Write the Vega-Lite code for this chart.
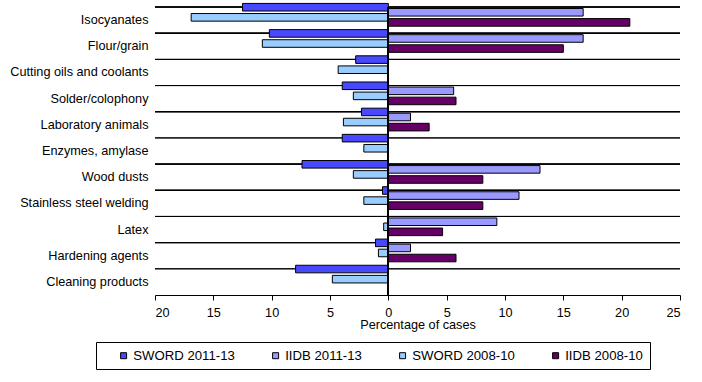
{
  "$schema": "https://vega.github.io/schema/vega-lite/v6.json",
  "width": 525,
  "height": 288,
  "autosize": {"type": "none"},
  "padding": {"left": 155, "top": 7, "right": 22, "bottom": 87},
  "config": {"view": {"stroke": null}, "font": "Liberation Sans"},
  "data": {
    "values": [
      {"category": "Isocyanates", "series": "SWORD 2011-13", "pct": -12.5},
      {"category": "Isocyanates", "series": "IIDB 2011-13", "pct": 16.7},
      {"category": "Isocyanates", "series": "SWORD 2008-10", "pct": -16.9},
      {"category": "Isocyanates", "series": "IIDB 2008-10", "pct": 20.7},
      {"category": "Flour/grain", "series": "SWORD 2011-13", "pct": -10.2},
      {"category": "Flour/grain", "series": "IIDB 2011-13", "pct": 16.7},
      {"category": "Flour/grain", "series": "SWORD 2008-10", "pct": -10.8},
      {"category": "Flour/grain", "series": "IIDB 2008-10", "pct": 15.0},
      {"category": "Cutting oils and coolants", "series": "SWORD 2011-13", "pct": -2.8},
      {"category": "Cutting oils and coolants", "series": "SWORD 2008-10", "pct": -4.3},
      {"category": "Solder/colophony", "series": "SWORD 2011-13", "pct": -3.95},
      {"category": "Solder/colophony", "series": "IIDB 2011-13", "pct": 5.6},
      {"category": "Solder/colophony", "series": "SWORD 2008-10", "pct": -3.0},
      {"category": "Solder/colophony", "series": "IIDB 2008-10", "pct": 5.8},
      {"category": "Laboratory animals", "series": "SWORD 2011-13", "pct": -2.3},
      {"category": "Laboratory animals", "series": "IIDB 2011-13", "pct": 1.9},
      {"category": "Laboratory animals", "series": "SWORD 2008-10", "pct": -3.85},
      {"category": "Laboratory animals", "series": "IIDB 2008-10", "pct": 3.5},
      {"category": "Enzymes, amylase", "series": "SWORD 2011-13", "pct": -3.95},
      {"category": "Enzymes, amylase", "series": "SWORD 2008-10", "pct": -2.1},
      {"category": "Wood dusts", "series": "SWORD 2011-13", "pct": -7.4},
      {"category": "Wood dusts", "series": "IIDB 2011-13", "pct": 13.0},
      {"category": "Wood dusts", "series": "SWORD 2008-10", "pct": -3.0},
      {"category": "Wood dusts", "series": "IIDB 2008-10", "pct": 8.1},
      {"category": "Stainless steel welding", "series": "SWORD 2011-13", "pct": -0.5},
      {"category": "Stainless steel welding", "series": "IIDB 2011-13", "pct": 11.2},
      {"category": "Stainless steel welding", "series": "SWORD 2008-10", "pct": -2.1},
      {"category": "Stainless steel welding", "series": "IIDB 2008-10", "pct": 8.1},
      {"category": "Latex", "series": "IIDB 2011-13", "pct": 9.3},
      {"category": "Latex", "series": "SWORD 2008-10", "pct": -0.4},
      {"category": "Latex", "series": "IIDB 2008-10", "pct": 4.65},
      {"category": "Hardening agents", "series": "SWORD 2011-13", "pct": -1.1},
      {"category": "Hardening agents", "series": "IIDB 2011-13", "pct": 1.9},
      {"category": "Hardening agents", "series": "SWORD 2008-10", "pct": -0.85},
      {"category": "Hardening agents", "series": "IIDB 2008-10", "pct": 5.8},
      {"category": "Cleaning products", "series": "SWORD 2011-13", "pct": -7.95},
      {"category": "Cleaning products", "series": "SWORD 2008-10", "pct": -4.8}
    ]
  },
  "layer": [
    {
      "mark": {"type": "rule", "color": "black", "strokeWidth": 1},
      "encoding": {
        "y": {
          "field": "category",
          "type": "nominal",
          "bandPosition": 0,
          "sort": ["Isocyanates", "Flour/grain", "Cutting oils and coolants", "Solder/colophony", "Laboratory animals", "Enzymes, amylase", "Wood dusts", "Stainless steel welding", "Latex", "Hardening agents", "Cleaning products"]
        }
      }
    },
    {
      "mark": {"type": "bar", "stroke": "black", "strokeWidth": 1, "height": {"band": 1.5}},
      "encoding": {
        "y": {
          "field": "category",
          "type": "nominal",
          "sort": ["Isocyanates", "Flour/grain", "Cutting oils and coolants", "Solder/colophony", "Laboratory animals", "Enzymes, amylase", "Wood dusts", "Stainless steel welding", "Latex", "Hardening agents", "Cleaning products"],
          "scale": {"paddingInner": 0, "paddingOuter": 0},
          "axis": {
            "title": null,
            "domain": false,
            "ticks": false,
            "grid": false,
            "labelPadding": 7,
            "labelFontSize": 12.7,
            "labelColor": "black",
            "labelLimit": 300
          }
        },
        "yOffset": {
          "field": "series",
          "type": "nominal",
          "sort": ["SWORD 2011-13", "IIDB 2011-13", "SWORD 2008-10", "IIDB 2008-10"],
          "scale": {"paddingInner": 0, "paddingOuter": 0.59}
        },
        "x": {
          "field": "pct",
          "type": "quantitative",
          "scale": {"domain": [-20, 25], "nice": false},
          "axis": {
            "values": [-20, -15, -10, -5, 0, 5, 10, 15, 20, 25],
            "labelExpr": "abs(datum.value)",
            "grid": false,
            "domainColor": "black",
            "tickColor": "black",
            "tickSize": 5,
            "labelFontSize": 12.7,
            "labelColor": "black",
            "labelPadding": 6,
            "title": "Percentage of cases",
            "titleFontSize": 12.7,
            "titleFontWeight": "normal",
            "titleColor": "black",
            "titlePadding": 0
          }
        },
        "color": {
          "field": "series",
          "type": "nominal",
          "scale": {
            "domain": ["SWORD 2011-13", "IIDB 2011-13", "SWORD 2008-10", "IIDB 2008-10"],
            "range": ["#4848FF", "#9999FF", "#99CCFF", "#660066"]
          },
          "legend": {
            "orient": "none",
            "legendX": -59,
            "legendY": 335,
            "direction": "horizontal",
            "columns": 4,
            "title": null,
            "strokeColor": "black",
            "padding": 7,
            "symbolType": "square",
            "symbolSize": 36,
            "symbolOffset": 14,
            "symbolStrokeColor": "black",
            "symbolStrokeWidth": 1,
            "symbolOpacity": 1,
            "labelFontSize": 13.2,
            "labelColor": "black",
            "labelOffset": 3,
            "columnPadding": 20
          }
        }
      }
    },
    {
      "mark": {"type": "rule", "color": "black", "strokeWidth": 1},
      "encoding": {"x": {"datum": 0}}
    }
  ]
}
